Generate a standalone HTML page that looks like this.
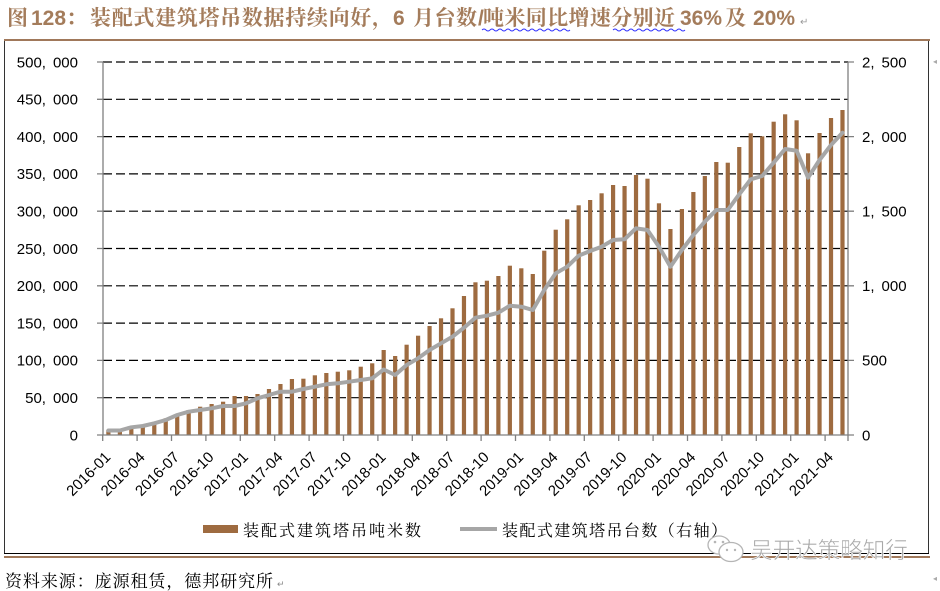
<!DOCTYPE html>
<html><head><meta charset="utf-8"><style>
html,body{margin:0;padding:0;background:#fff;}
svg{display:block;}
</style></head><body>
<svg width="940" height="591" viewBox="0 0 940 591" xmlns="http://www.w3.org/2000/svg">
<rect width="940" height="591" fill="#fff"/>
<!-- Title -->
<g font-family="'Liberation Sans','Noto Serif CJK SC',serif" font-weight="bold" font-size="21" fill="#A47C5B">
<text x="7" y="25">图</text>
<text x="31" y="25">128</text>
<text x="66" y="25">：</text>
<text x="90" y="25" textLength="303" lengthAdjust="spacing">装配式建筑塔吊数据持续向好，</text>
<text x="393" y="25">6</text>
<text x="413" y="25" textLength="64" lengthAdjust="spacing">月台数</text>
<text x="478" y="25">/</text>
<text x="483" y="25" textLength="192" lengthAdjust="spacing">吨米同比增速分别近</text>
<text x="680" y="25">36%</text>
<text x="725" y="25">及</text>
<text x="753" y="25">20%</text>
</g>
<text x="800" y="25" font-family="'Liberation Sans',sans-serif" font-size="10" fill="#999">↵</text>
<path d="M482,30 q2,-2 4,0 t4,0 t4,0 t4,0 t4,0 t4,0 t4,0 t4,0 t4,0 t4,0 t4,0 t4,0 t4,0 t4,0 t4,0 t4,0 t4,0 t4,0 t4,0 t4,0 t4,0 t4,0" fill="none" stroke="#3030ff" stroke-width="0.9"/>
<path d="M613,30 q2,-2 4,0 t4,0 t4,0 t4,0 t4,0 t4,0 t4,0 t4,0 t4,0 t4,0 t4,0 t4,0 t4,0 t4,0 t4,0 t4,0 t4,0 t4,0" fill="none" stroke="#3030ff" stroke-width="0.9"/>

<!-- frame -->
<rect x="4" y="39" width="926" height="2" fill="#A0785A"/>
<line x1="4.5" y1="41" x2="4.5" y2="554" stroke="#333" stroke-width="1"/>
<line x1="928.5" y1="41" x2="928.5" y2="554" stroke="#333" stroke-width="1"/>
<line x1="4" y1="553.5" x2="929" y2="553.5" stroke="#000" stroke-width="1"/>
<rect x="4" y="556" width="926" height="2" fill="#A0785A"/>

<!-- gridlines -->
<g stroke="#000" stroke-width="1.2" stroke-dasharray="9,4">
<line x1="103" y1="62" x2="848" y2="62"/>
<line x1="103" y1="99.3" x2="848" y2="99.3"/>
<line x1="103" y1="136.6" x2="848" y2="136.6"/>
<line x1="103" y1="173.9" x2="848" y2="173.9"/>
<line x1="103" y1="211.2" x2="848" y2="211.2"/>
<line x1="103" y1="248.5" x2="848" y2="248.5"/>
<line x1="103" y1="285.8" x2="848" y2="285.8"/>
<line x1="103" y1="323.1" x2="848" y2="323.1"/>
<line x1="103" y1="360.4" x2="848" y2="360.4"/>
<line x1="103" y1="397.7" x2="848" y2="397.7"/>
</g>

<!-- bars -->
<g fill="#9E6B40">
<rect x="106.3" y="430" width="4.2" height="5"/>
<rect x="117.77" y="429.5" width="4.2" height="5.5"/>
<rect x="129.24" y="426.7" width="4.2" height="8.3"/>
<rect x="140.71" y="425" width="4.2" height="10"/>
<rect x="152.18" y="423.3" width="4.2" height="11.7"/>
<rect x="163.65" y="418.3" width="4.2" height="16.7"/>
<rect x="175.12" y="415" width="4.2" height="20"/>
<rect x="186.59" y="410" width="4.2" height="25"/>
<rect x="198.06" y="406.7" width="4.2" height="28.3"/>
<rect x="209.53" y="404" width="4.2" height="31"/>
<rect x="221" y="401.7" width="4.2" height="33.3"/>
<rect x="232.47" y="396" width="4.2" height="39"/>
<rect x="243.94" y="396" width="4.2" height="39"/>
<rect x="255.41" y="394" width="4.2" height="41"/>
<rect x="266.88" y="389" width="4.2" height="46"/>
<rect x="278.35" y="384" width="4.2" height="51"/>
<rect x="289.82" y="379" width="4.2" height="56"/>
<rect x="301.29" y="378.7" width="4.2" height="56.3"/>
<rect x="312.76" y="375.3" width="4.2" height="59.7"/>
<rect x="324.23" y="373" width="4.2" height="62"/>
<rect x="335.7" y="371.7" width="4.2" height="63.3"/>
<rect x="347.17" y="370.3" width="4.2" height="64.7"/>
<rect x="358.64" y="366.7" width="4.2" height="68.3"/>
<rect x="370.11" y="363.3" width="4.2" height="71.7"/>
<rect x="381.58" y="350" width="4.2" height="85"/>
<rect x="393.05" y="356" width="4.2" height="79"/>
<rect x="404.52" y="344.7" width="4.2" height="90.3"/>
<rect x="415.99" y="335.7" width="4.2" height="99.3"/>
<rect x="427.46" y="326" width="4.2" height="109"/>
<rect x="438.93" y="318.3" width="4.2" height="116.7"/>
<rect x="450.4" y="308.3" width="4.2" height="126.7"/>
<rect x="461.87" y="296" width="4.2" height="139"/>
<rect x="473.34" y="282.3" width="4.2" height="152.7"/>
<rect x="484.81" y="280.7" width="4.2" height="154.3"/>
<rect x="496.28" y="276" width="4.2" height="159"/>
<rect x="507.75" y="265.7" width="4.2" height="169.3"/>
<rect x="519.22" y="268.3" width="4.2" height="166.7"/>
<rect x="530.69" y="274" width="4.2" height="161"/>
<rect x="542.16" y="250.7" width="4.2" height="184.3"/>
<rect x="553.63" y="229.7" width="4.2" height="205.3"/>
<rect x="565.1" y="219.3" width="4.2" height="215.7"/>
<rect x="576.57" y="205.3" width="4.2" height="229.7"/>
<rect x="588.04" y="200" width="4.2" height="235"/>
<rect x="599.51" y="193.3" width="4.2" height="241.7"/>
<rect x="610.98" y="185" width="4.2" height="250"/>
<rect x="622.45" y="186" width="4.2" height="249"/>
<rect x="633.92" y="175" width="4.2" height="260"/>
<rect x="645.39" y="178.7" width="4.2" height="256.3"/>
<rect x="656.86" y="203.3" width="4.2" height="231.7"/>
<rect x="668.33" y="229" width="4.2" height="206"/>
<rect x="679.8" y="209" width="4.2" height="226"/>
<rect x="691.27" y="192" width="4.2" height="243"/>
<rect x="702.74" y="176" width="4.2" height="259"/>
<rect x="714.21" y="162" width="4.2" height="273"/>
<rect x="725.68" y="162.7" width="4.2" height="272.3"/>
<rect x="737.15" y="147" width="4.2" height="288"/>
<rect x="748.62" y="133.3" width="4.2" height="301.7"/>
<rect x="760.09" y="136.3" width="4.2" height="298.7"/>
<rect x="771.56" y="121.7" width="4.2" height="313.3"/>
<rect x="783.03" y="114.3" width="4.2" height="320.7"/>
<rect x="794.5" y="120.3" width="4.2" height="314.7"/>
<rect x="805.97" y="153.3" width="4.2" height="281.7"/>
<rect x="817.44" y="133" width="4.2" height="302"/>
<rect x="828.91" y="118" width="4.2" height="317"/>
<rect x="840.38" y="110" width="4.2" height="325"/>
</g>

<!-- line -->
<polyline fill="none" stroke="#A6A6A6" stroke-width="4" stroke-linejoin="round" stroke-linecap="round" points="108.4,430.5 119.87,430.5 131.34,427.3 142.81,426 154.28,423.3 165.75,420 177.22,415 188.69,411.7 200.16,410 211.63,408.3 223.1,406 234.57,406 246.04,403.3 257.51,398.3 268.98,395 280.45,391.7 291.92,391.7 303.39,389 314.86,386.7 326.33,384.3 337.8,383.3 349.27,381.7 360.74,380 372.21,378.3 383.68,369.5 395.15,375 406.62,365 418.09,358.3 429.56,350 441.03,343.3 452.5,336.7 463.97,327.7 475.44,317.7 486.91,315.7 498.38,312.7 509.85,305.7 521.32,306.7 532.79,310 544.26,290 555.73,273.3 567.2,266.7 578.67,255.7 590.14,251 601.61,246.7 613.08,240 624.55,239.3 636.02,228.3 647.49,230 658.96,246.7 670.43,266.7 681.9,250 693.37,235 704.84,221.7 716.31,210 727.78,210 739.25,194.3 750.72,179.3 762.19,176 773.66,162.7 785.13,149 796.6,150.7 808.07,177.7 819.54,160 831.01,145 842.48,132.7"/>

<!-- axes -->
<g stroke="#808080" stroke-width="1.3" fill="none">
<line x1="103" y1="62" x2="103" y2="435"/>
<line x1="848" y1="62" x2="848" y2="435"/>
<line x1="103" y1="435" x2="848" y2="435"/>
<path d="M97,62H103M97,99.3H103M97,136.6H103M97,173.9H103M97,211.2H103M97,248.5H103M97,285.8H103M97,323.1H103M97,360.4H103M97,397.7H103M97,435H103"/>
<path d="M848,62H854M848,136.6H854M848,211.2H854M848,285.8H854M848,360.4H854M848,435H854"/>
<path d="M102.7,435V441M137.1,435V441M171.5,435V441M205.9,435V441M240.3,435V441M274.7,435V441M309.1,435V441M343.5,435V441M377.9,435V441M412.3,435V441M446.7,435V441M481.1,435V441M515.5,435V441M549.9,435V441M584.3,435V441M618.7,435V441M653.1,435V441M687.5,435V441M721.9,435V441M756.3,435V441M790.7,435V441M825.1,435V441M848,435V441"/>
</g>

<!-- left labels -->
<g font-family="'Liberation Sans',sans-serif" font-size="15" fill="#000" text-anchor="end">
<text x="78" y="67.3">500,<tspan dx="7">000</tspan></text>
<text x="78" y="104.6">450,<tspan dx="7">000</tspan></text>
<text x="78" y="141.9">400,<tspan dx="7">000</tspan></text>
<text x="78" y="179.2">350,<tspan dx="7">000</tspan></text>
<text x="78" y="216.5">300,<tspan dx="7">000</tspan></text>
<text x="78" y="253.8">250,<tspan dx="7">000</tspan></text>
<text x="78" y="291.1">200,<tspan dx="7">000</tspan></text>
<text x="78" y="328.4">150,<tspan dx="7">000</tspan></text>
<text x="78" y="365.7">100,<tspan dx="7">000</tspan></text>
<text x="78" y="403">50,<tspan dx="7">000</tspan></text>
<text x="78" y="440.3">0</text>
</g>
<!-- right labels -->
<g font-family="'Liberation Sans',sans-serif" font-size="15" fill="#000">
<text x="862" y="67.3">2,<tspan dx="7">500</tspan></text>
<text x="862" y="141.9">2,<tspan dx="7">000</tspan></text>
<text x="862" y="216.5">1,<tspan dx="7">500</tspan></text>
<text x="862" y="291.1">1,<tspan dx="7">000</tspan></text>
<text x="862" y="365.7">500</text>
<text x="862" y="440.3">0</text>
</g>

<!-- x labels -->
<g font-family="'Liberation Sans',sans-serif" font-size="15" fill="#000" text-anchor="end">
<text transform="translate(111.4,458) rotate(-45)">2016-01</text>
<text transform="translate(145.8,458) rotate(-45)">2016-04</text>
<text transform="translate(180.2,458) rotate(-45)">2016-07</text>
<text transform="translate(214.6,458) rotate(-45)">2016-10</text>
<text transform="translate(249,458) rotate(-45)">2017-01</text>
<text transform="translate(283.5,458) rotate(-45)">2017-04</text>
<text transform="translate(317.9,458) rotate(-45)">2017-07</text>
<text transform="translate(352.3,458) rotate(-45)">2017-10</text>
<text transform="translate(386.7,458) rotate(-45)">2018-01</text>
<text transform="translate(421.1,458) rotate(-45)">2018-04</text>
<text transform="translate(455.5,458) rotate(-45)">2018-07</text>
<text transform="translate(489.9,458) rotate(-45)">2018-10</text>
<text transform="translate(524.3,458) rotate(-45)">2019-01</text>
<text transform="translate(558.7,458) rotate(-45)">2019-04</text>
<text transform="translate(593.1,458) rotate(-45)">2019-07</text>
<text transform="translate(627.6,458) rotate(-45)">2019-10</text>
<text transform="translate(662,458) rotate(-45)">2020-01</text>
<text transform="translate(696.4,458) rotate(-45)">2020-04</text>
<text transform="translate(730.8,458) rotate(-45)">2020-07</text>
<text transform="translate(765.2,458) rotate(-45)">2020-10</text>
<text transform="translate(799.6,458) rotate(-45)">2021-01</text>
<text transform="translate(834,458) rotate(-45)">2021-04</text>
</g>

<!-- legend -->
<rect x="203" y="525" width="35" height="8" fill="#9E6B40"/>
<text x="243" y="536" font-family="'Liberation Serif','Noto Serif CJK SC',serif" font-size="16" fill="#000" textLength="178" lengthAdjust="spacing">装配式建筑塔吊吨米数</text>
<line x1="460" y1="529" x2="497" y2="529" stroke="#A6A6A6" stroke-width="4"/>
<text x="502" y="536" font-family="'Liberation Serif','Noto Serif CJK SC',serif" font-size="16" fill="#000" textLength="225" lengthAdjust="spacing">装配式建筑塔吊台数（右轴）</text>

<!-- watermark -->
<g fill="#fff" stroke="#b5b5b5" stroke-width="1.3">
<ellipse cx="719" cy="545" rx="11" ry="9"/>
<ellipse cx="731" cy="552" rx="12" ry="9.5"/>
</g>
<g fill="#b5b5b5">
<circle cx="715" cy="542" r="1.3"/><circle cx="723" cy="542" r="1.3"/>
<circle cx="727" cy="550" r="1.2"/><circle cx="735" cy="550" r="1.2"/>
</g>
<text x="750" y="558" font-family="'Liberation Sans','Noto Sans CJK SC',sans-serif" font-size="23" fill="#a8a8a8" stroke="#fff" stroke-width="0.6" textLength="158" lengthAdjust="spacing">吴开达策略知行</text>

<!-- footer -->
<text x="5" y="587" font-family="'Liberation Serif','Noto Serif CJK SC',serif" font-size="17" fill="#000" textLength="268" lengthAdjust="spacing">资料来源：庞源租赁，德邦研究所</text>
<text x="277" y="587" font-family="'Liberation Sans',sans-serif" font-size="9" fill="#888">↵</text>
<text x="933" y="64" font-family="'Liberation Sans',sans-serif" font-size="8" fill="#aaa">◂</text>
<text x="933" y="581" font-family="'Liberation Sans',sans-serif" font-size="8" fill="#aaa">◂</text>
</svg>
</body></html>
